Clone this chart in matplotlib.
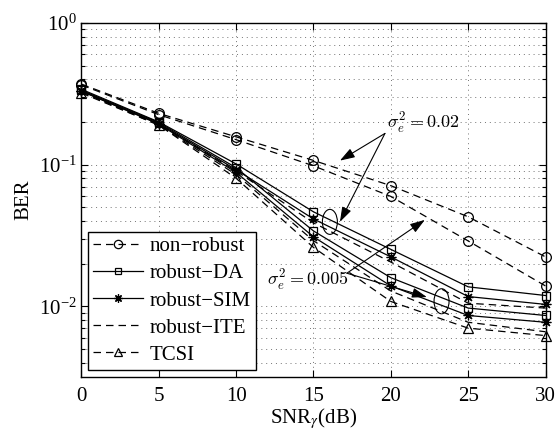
import matplotlib
matplotlib.use("Agg")
import matplotlib.pyplot as plt
from matplotlib.lines import Line2D
from matplotlib.patches import Ellipse
from matplotlib.ticker import LogLocator, NullFormatter
import numpy as np

plt.rcParams["font.family"] = ["Liberation Serif", "DejaVu Serif"]
plt.rcParams["mathtext.fontset"] = "stix"

snr_db = [0, 5, 10, 15, 20, 25, 30]

# sigma_e^2 = 0.02
ber_nonrobust_02 = [0.37, 0.23, 0.157, 0.107, 0.071, 0.0428, 0.0223]
ber_da_02 = [0.34, 0.20, 0.101, 0.0464, 0.0252, 0.0137, 0.0119]
ber_sim_02 = [0.33, 0.195, 0.092, 0.0413, 0.0223, 0.0117, 0.0103]
ber_ite_02 = [0.33, 0.193, 0.090, 0.0388, 0.0205, 0.0105, 0.0097]

# sigma_e^2 = 0.005
ber_nonrobust_005 = [0.365, 0.225, 0.150, 0.098, 0.0596, 0.0289, 0.0139]
ber_da_005 = [0.335, 0.198, 0.095, 0.0340, 0.0159, 0.0097, 0.0086]
ber_sim_005 = [0.33, 0.193, 0.088, 0.0309, 0.0139, 0.0086, 0.0077]
ber_ite_005 = [0.325, 0.19, 0.085, 0.029, 0.0128, 0.0077, 0.0066]

# perfect CSI
ber_tcsi = [0.32, 0.19, 0.080, 0.0260, 0.0108, 0.0070, 0.0062]

legend_labels = ["non\u2212robust", "robust\u2212DA", "robust\u2212SIM",
                 "robust\u2212ITE", "TCSI"]

# annotation anchors (SNR, BER)
txt_02 = (19.75, 0.18)
txt_005 = (12.0, 0.0139)
arrow_start_02 = (19.62, 0.166)
arrow_tips_02 = [(16.71, 0.1067), (16.71, 0.0394)]
arrow_start_005 = (17.16, 0.0171)
arrow_tips_005 = [(22.2, 0.0407), (22.33, 0.0116)]
ellipse_centers = [(16.06, 0.0394), (23.28, 0.01084)]

fig = plt.figure(figsize=(5.58, 4.32), dpi=100)
ax = fig.add_axes([0.146, 0.1273, 0.8316, 0.8195])

dash = (0, (6, 4))
ms_kw = dict(markerfacecolor="none", markeredgecolor="k", markeredgewidth=0.9)
star = (8, 2, 0)

for ber_nr, ber_da, ber_sim, ber_ite in [
        (ber_nonrobust_02, ber_da_02, ber_sim_02, ber_ite_02),
        (ber_nonrobust_005, ber_da_005, ber_sim_005, ber_ite_005)]:
    ax.semilogy(snr_db, ber_nr, color="k", lw=0.9, ls=dash, marker="o",
                ms=7, clip_on=False, **ms_kw)
    ax.semilogy(snr_db, ber_da, color="k", lw=0.9, ls="-", marker="s",
                ms=6, clip_on=False, **ms_kw)
    ax.semilogy(snr_db, ber_sim, color="k", lw=0.9, ls="-", marker=star,
                ms=7, clip_on=False, **ms_kw)
    ax.semilogy(snr_db, ber_ite, color="k", lw=0.9, ls=dash)

ax.semilogy(snr_db, ber_tcsi, color="k", lw=0.9, ls=dash, marker="^",
            ms=7, clip_on=False, **ms_kw)

ax.set_xlim(0, 30)
ax.set_ylim(10 ** -2.5, 1)
ax.set_xticks(snr_db)
ax.yaxis.set_major_locator(LogLocator(base=10, numticks=10))
ax.yaxis.set_minor_locator(LogLocator(base=10, subs=np.arange(2, 10), numticks=20))
ax.yaxis.set_minor_formatter(NullFormatter())

ax.tick_params(which="both", direction="in", top=True, right=True,
               labelsize=15, width=0.8)
ax.tick_params(which="major", length=5)
ax.tick_params(which="minor", length=3)
ax.tick_params(axis="x", pad=7)
for sp in ax.spines.values():
    sp.set_linewidth(1.0)

ax.grid(True, which="major", ls=(0, (1, 4)), lw=0.7, color="0.45")
ax.grid(True, which="minor", axis="y", ls=(0, (1, 4)), lw=0.7, color="0.45")

ax.set_xlabel(r"SNR$_\gamma$(dB)", fontsize=15, labelpad=0)
ax.set_ylabel("BER", fontsize=15, labelpad=4)

# ellipses drawn in axes coordinates so they stay round on the log axis
for cx, cy in ellipse_centers:
    px, py = ax.transAxes.inverted().transform(ax.transData.transform((cx, cy)))
    ax.add_patch(Ellipse((px, py), 15 / 464, 25 / 354, transform=ax.transAxes,
                         fill=False, ec="k", lw=0.8))

arrow_kw = dict(arrowstyle="-|>,head_length=0.9,head_width=0.3", lw=0.8,
                color="k", shrinkA=0, shrinkB=0)
for tip in arrow_tips_02:
    ax.annotate("", xy=tip, xytext=arrow_start_02, arrowprops=arrow_kw)
for tip in arrow_tips_005:
    ax.annotate("", xy=tip, xytext=arrow_start_005, arrowprops=arrow_kw)

ax.text(*txt_02, r"$\sigma_e^2 = 0.02$", fontsize=13, math_fontfamily="cm",
        ha="left", va="baseline")
ax.text(*txt_005, r"$\sigma_e^2 = 0.005$", fontsize=13, math_fontfamily="cm",
        ha="left", va="baseline")

handles = [
    Line2D([], [], color="k", lw=0.9, ls=dash, marker="o", ms=6, **ms_kw),
    Line2D([], [], color="k", lw=0.9, ls="-", marker="s", ms=5, **ms_kw),
    Line2D([], [], color="k", lw=0.9, ls="-", marker=star, ms=6, **ms_kw),
    Line2D([], [], color="k", lw=0.9, ls=dash),
    Line2D([], [], color="k", lw=0.9, ls=dash, marker="^", ms=6, **ms_kw),
]
leg = ax.legend(handles, legend_labels, loc="lower left",
                bbox_to_anchor=(0.014, 0.02), borderaxespad=0, fontsize=15,
                fancybox=False, framealpha=1, edgecolor="k",
                handlelength=2.4, handletextpad=0.3, labelspacing=0.36,
                borderpad=0.25)
leg.get_frame().set_linewidth(1.0)

fig.savefig("out.png", dpi=100)
